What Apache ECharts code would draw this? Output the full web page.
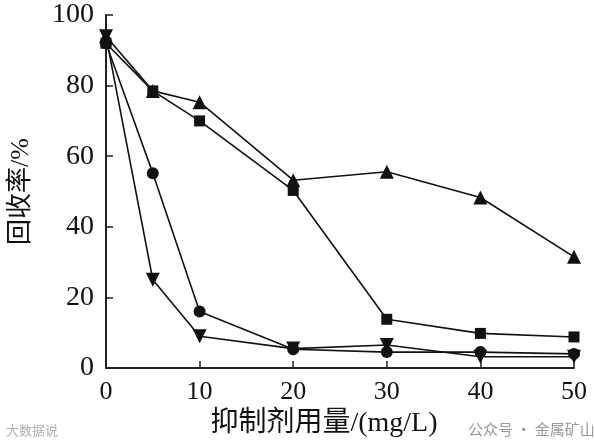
<!DOCTYPE html>
<html>
<head>
<meta charset="utf-8">
<script src="https://cdn.jsdelivr.net/npm/echarts@6/dist/echarts.min.js"></script>
<style>
    html, body { margin: 0; padding: 0; background: #fff; }
    #mychart1 { width: 594px; height: 448px; }
</style>
</head>
<body>
<div id="mychart1"></div>
<script>
var doseArr = [0, 5, 10, 20, 30, 40, 50];
//四组回收率数据
var squareArr = [92, 78.5, 70, 50.3, 13.8, 9.8, 8.8];
var triUpArr = [94, 78.5, 75.3, 53.2, 55.6, 48.3, 31.5];
var circleArr = [92, 55.2, 16, 5.3, 4.5, 4.5, 4];
var triDownArr = [94, 25, 9, 5.5, 6.5, 3.2, 3.2];

var fontSerif = '"Liberation Serif", "Noto Sans CJK SC", serif';

function toPairs(arr) {
    var res = [];
    for (var i = 0; i < doseArr.length; i++) {
        res.push([doseArr[i], arr[i]]);
    }
    return res;
}

function makeSeries(arr, symbol, size, rotate) {
    return {
        type: 'line',
        data: toPairs(arr),
        symbol: symbol,
        symbolSize: size,
        symbolRotate: rotate || 0,
        showAllSymbol: true,
        lineStyle: { color: '#111', width: 1.6 },
        itemStyle: { color: '#111' },
        z: 3
    };
}

var myChart = echarts.init(document.getElementById('mychart1'));
var option = {
    animation: false,
    backgroundColor: '#fff',
    grid: { left: 102, right: 20, top: 15, bottom: 80 },
    xAxis: {
        type: 'value',
        min: 0,
        max: 50,
        interval: 10,
        name: '抑制剂用量/(mg/L)',
        nameLocation: 'middle',
        nameGap: 40,
        nameTextStyle: { fontFamily: fontSerif, fontSize: 28, color: '#111', padding: [0, 32, 0, 0] },
        axisLine: { lineStyle: { color: '#222', width: 2 } },
        axisTick: { inside: true, length: 7, lineStyle: { color: '#222', width: 1.5 } },
        axisLabel: { fontFamily: fontSerif, fontSize: 26, color: '#111', margin: 11 },
        splitLine: { show: false }
    },
    yAxis: {
        type: 'value',
        min: 0,
        max: 100,
        interval: 20,
        name: '回收率/%',
        nameLocation: 'middle',
        nameGap: 72,
        nameRotate: 90,
        nameTextStyle: { fontFamily: fontSerif, fontSize: 26, color: '#111' },
        axisLine: { show: true, lineStyle: { color: '#222', width: 2 } },
        axisTick: { show: true, inside: true, length: 7, lineStyle: { color: '#222', width: 1.5 } },
        axisLabel: { fontFamily: fontSerif, fontSize: 28, color: '#111', margin: 12 },
        splitLine: { show: false }
    },
    graphic: [
        {
            type: 'text',
            left: 468,
            top: 422,
            style: { text: '公众号 · 金属矿山', fill: '#9a9a9a', font: '15px "Noto Sans CJK SC"' }
        },
        {
            type: 'text',
            left: 6,
            top: 424,
            style: { text: '大数据说', fill: '#b0b0b0', font: '13px "Noto Sans CJK SC"' }
        }
    ],
    series: [
        makeSeries(squareArr, 'rect', 11),
        makeSeries(triUpArr, 'triangle', 14),
        makeSeries(circleArr, 'circle', 12),
        makeSeries(triDownArr, 'triangle', 14, 180)
    ]
};
myChart.setOption(option);
</script>
</body>
</html>
